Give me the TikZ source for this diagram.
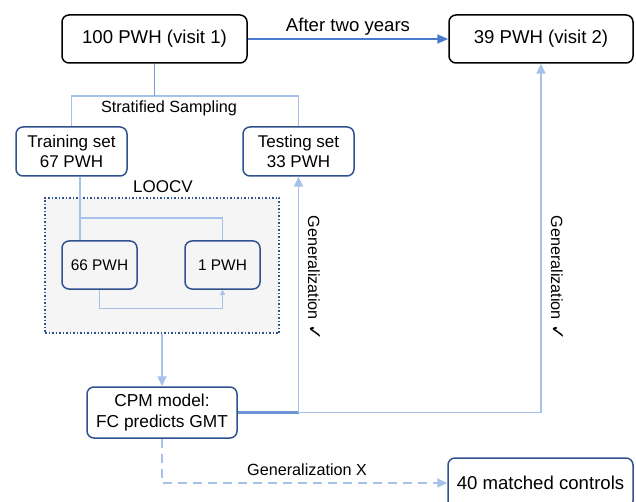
\documentclass[tikz,border=0pt]{standalone}
\usepackage{fontspec}
\setmainfont{Liberation Sans}
\newfontfamily\symfont{DejaVu Sans}
\usetikzlibrary{arrows.meta}
\definecolor{lblue}{RGB}{166,193,234}
\definecolor{mblue}{RGB}{120,155,215}
\definecolor{dblue}{RGB}{74,122,208}
\definecolor{bblue}{RGB}{47,82,143}
\definecolor{lgray}{RGB}{245,245,245}
\tikzset{
  bigbox/.style={draw=black, line width=1.5pt, rounded corners=7pt, align=center, font=\fontsize{18.6}{21}\selectfont, inner sep=0pt},
  bluebox/.style={draw=bblue, line width=1.5pt, rounded corners=7pt, align=center, inner sep=0pt, fill=white},
  ln/.style={draw=lblue, line width=1.8pt},
  tip/.style={-{Triangle[length=10pt,width=9pt]}},
  smalltip/.style={-{Triangle[length=5pt,width=5pt]}},
  lbl/.style={font=\fontsize{16.2}{19}\selectfont, inner sep=1pt},
}
\begin{document}
\begin{tikzpicture}[x=1pt,y=-1pt]
\useasboundingbox (0,0) rectangle (636,502);
% boxes
\node[bigbox, minimum width=185pt, minimum height=48pt] (v1) at (154.5,39) {100 PWH (visit 1)};
\node[bigbox, minimum width=184pt, minimum height=48pt] (v2) at (541,39) {39 PWH (visit 2)};
\node[bluebox, minimum width=111pt, minimum height=49pt, font=\fontsize{17}{20}\selectfont] (train) at (71.5,151.5) {Training set\\67 PWH};
\node[bluebox, minimum width=111pt, minimum height=49pt, font=\fontsize{17}{20}\selectfont] (test) at (298.5,151.5) {Testing set\\33 PWH};
\node[draw=bblue, dotted, line width=1.5pt, fill=lgray, minimum width=234pt, minimum height=135pt, inner sep=0pt] (loocv) at (162,265.5) {};
\node[lbl, font=\fontsize{17}{20}\selectfont] (loocvlbl) at (163,187) {LOOCV};
\node[bluebox, fill=lgray, minimum width=75pt, minimum height=48pt, font=\fontsize{15.4}{18}\selectfont] (p66) at (99.5,265) {66 PWH};
\node[bluebox, fill=lgray, minimum width=75pt, minimum height=48pt, font=\fontsize{15.4}{18}\selectfont] (p1) at (222.5,265) {1 PWH};
\node[bluebox, minimum width=150pt, minimum height=51pt, font=\fontsize{17.3}{20.5}\selectfont] (cpm) at (162,412.5) {CPM model:\\FC predicts GMT};
\node[bluebox, minimum width=185pt, minimum height=50pt, font=\fontsize{18.6}{21}\selectfont] (ctrl) at (540.5,483) {40 matched controls};
% top arrow
\draw[draw=dblue, line width=1.8pt, -{Triangle[length=11pt,width=9pt]}, dblue] (v1.east) -- node[above=-1pt, font=\fontsize{18.6}{21}\selectfont, text=black] {After two years} (v2.west);
% stratified sampling
\coordinate (ss) at (154.5,96);
\draw[ln] (train.north) |- (ss) -| (test.north);
\draw[draw=mblue, line width=1.8pt] (v1.south) -- (ss);
\node[lbl] (sslbl) at (169,108) {Stratified Sampling};
% LOOCV internal
\coordinate (j) at (80,218);
\draw[ln] (j |- train.south) -- (j |- p66.north);
\draw[ln] (j) -| (p1.north);
\draw[ln, line width=1.4pt, smalltip, lblue] (p66.south) -- ++(0,19) -| (p1.south);
% to CPM
\draw[ln, tip, lblue] (loocv.south) -- (cpm.north);
% generalization
\coordinate (g) at (298.5,412.5);
\draw[draw=dblue!80, line width=2.6pt] (cpm.east) -- (g);
\draw[ln, tip, lblue] (g) -- (test.south);
\draw[ln, tip, lblue] (g) -| (v2.south);
\node[lbl, rotate=-90] (gen1) at (314,278) {Generalization {\symfont\fontsize{19}{19}\selectfont ✓}};
\node[lbl, rotate=-90] (gen2) at (557,278) {Generalization {\symfont\fontsize{19}{19}\selectfont ✓}};
% dashed
\draw[ln, dashed, dash pattern=on 9pt off 6pt, tip, lblue] (cpm.south) |- (ctrl.west);
\node[lbl] (genx) at (307,470) {Generalization {\fontsize{16}{18}\selectfont X}};
\end{tikzpicture}
\end{document}
